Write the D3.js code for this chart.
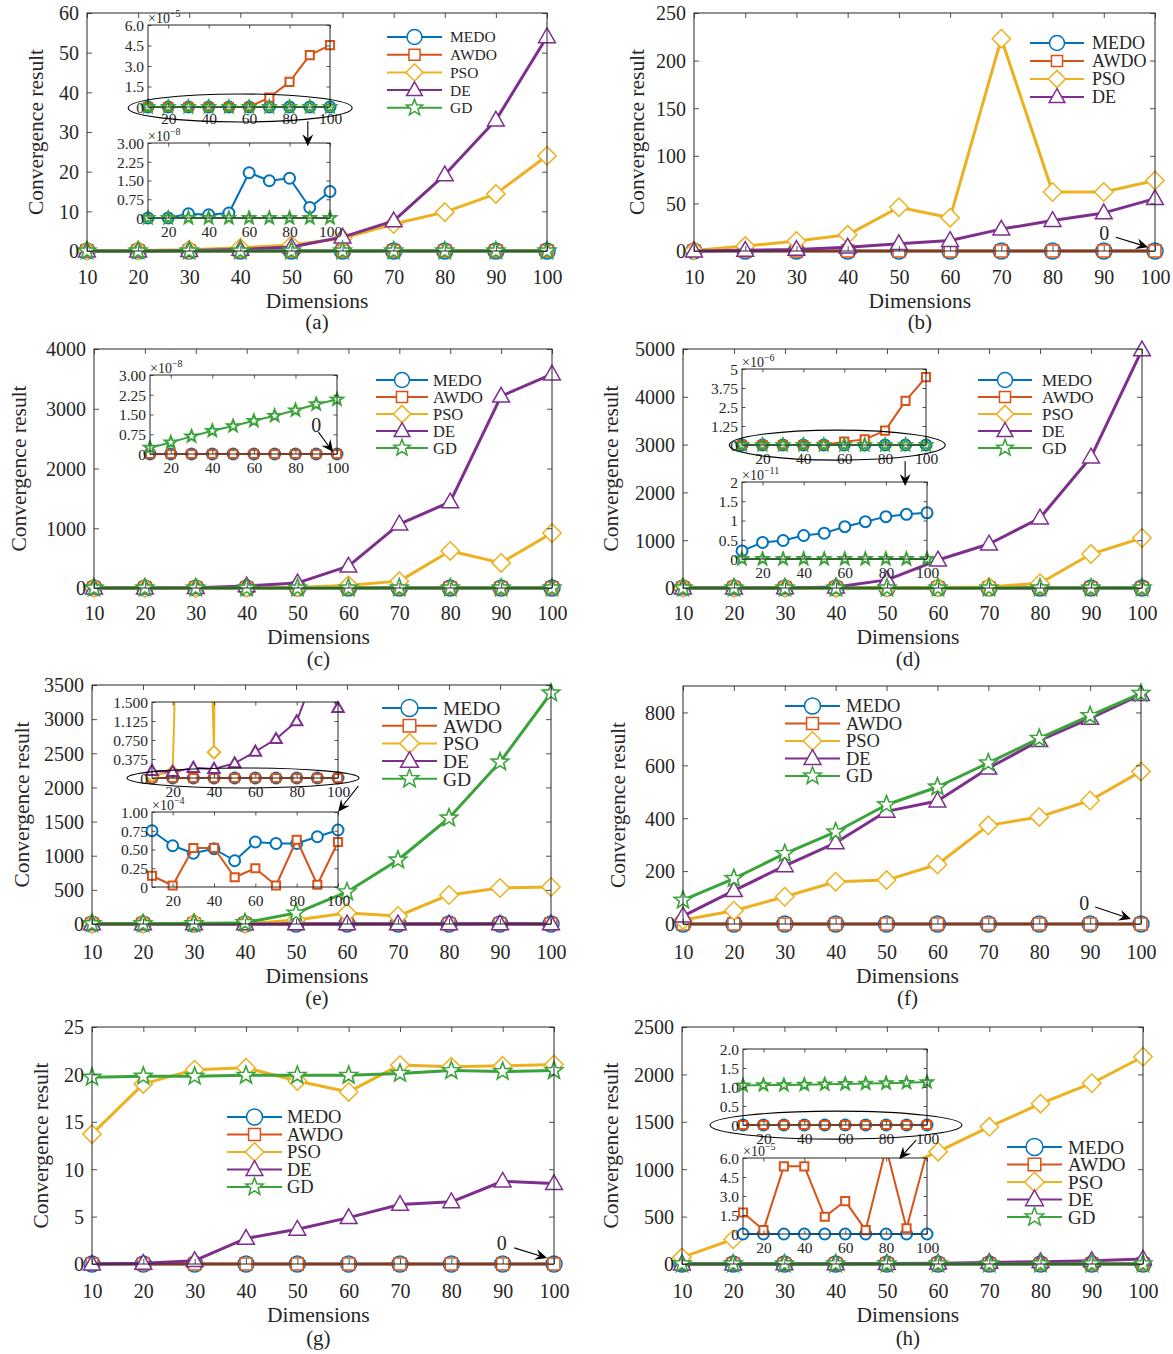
<!DOCTYPE html>
<html>
<head>
<meta charset="utf-8">
<script src="https://cdn.jsdelivr.net/npm/d3@7/dist/d3.min.js"></script>
<style>
html,body{margin:0;padding:0;background:#fff;}
svg text{font-family:"Liberation Serif","Times New Roman",Times,serif;fill:#262626;}
</style>
</head>
<body>
<div id="chart"></div>
<script>
// ================= DATA =================
const dims = [10, 20, 30, 40, 50, 60, 70, 80, 90, 100];
const dimLabels = ["10", "20", "30", "40", "50", "60", "70", "80", "90", "100"];
const insetXTicks = [20, 40, 60, 80, 100];
const insetXLabels = ["20", "40", "60", "80", "100"];
const zero10 = [0, 0, 0, 0, 0, 0, 0, 0, 0, 0];

// (a)
const a_MEDO = [0, 0, 0.17e-8, 0.13e-8, 0.2e-8, 1.81e-8, 1.49e-8, 1.59e-8, 0.42e-8, 1.06e-8];
const a_AWDO = [0, 0, 0, 0, 0, 0, 0.69e-5, 1.84e-5, 3.8e-5, 4.53e-5];
const a_PSO = [0.05, 0.1, 0.3, 0.8, 1.5, 3.2, 6.8, 9.8, 14.4, 24.0];
const a_DE = [0, 0, 0.1, 0.4, 1.0, 3.5, 7.6, 19.2, 33.0, 54.0];
const a_GD = zero10;
const a_yTicks = [0, 10, 20, 30, 40, 50, 60];
const a_in1_yTicks = [0, 1.5e-5, 3e-5, 4.5e-5, 6e-5];
const a_in1_yLabels = ["0", "1.5", "3.0", "4.5", "6.0"];
const a_in2_yTicks = [0, 0.75e-8, 1.5e-8, 2.25e-8, 3e-8];
const a_in2_yLabels = ["0", "0.75", "1.50", "2.25", "3.00"];

// (b)
const b_MEDO = zero10;
const b_AWDO = zero10;
const b_PSO = [0.5, 5.2, 10.5, 17, 46, 35, 223, 62, 62, 74];
const b_DE = [0, 0.7, 1.7, 4, 7.7, 11, 23, 32, 40, 55];
const b_yTicks = [0, 50, 100, 150, 200, 250];

// (c)
const c_MEDO = zero10;
const c_AWDO = zero10;
const c_PSO = [0, 0, 1, 3, 8, 45, 115, 620, 420, 920];
const c_DE = [0, 0, 5, 35, 85, 365, 1070, 1440, 3210, 3580];
const c_GD = [0.24e-8, 0.44e-8, 0.67e-8, 0.88e-8, 1.06e-8, 1.26e-8, 1.45e-8, 1.66e-8, 1.89e-8, 2.07e-8];
const c_yTicks = [0, 1000, 2000, 3000, 4000];
const c_in_yTicks = [0, 0.75e-8, 1.5e-8, 2.25e-8, 3e-8];
const c_in_yLabels = ["0", "0.75", "1.50", "2.25", "3.00"];

// (d)
const d_MEDO = [0.21e-11, 0.43e-11, 0.48e-11, 0.61e-11, 0.67e-11, 0.84e-11, 0.97e-11, 1.10e-11, 1.16e-11, 1.20e-11];
const d_AWDO = [0, 0, 0, 0, 0, 0.22e-6, 0.37e-6, 0.95e-6, 2.9e-6, 4.47e-6];
const d_PSO = [0, 0, 0, 2, 5, 10, 20, 100, 710, 1046];
const d_DE = [0, 0, 2, 20, 170, 585, 920, 1464, 2740, 4980];
const d_GD = zero10;
const d_yTicks = [0, 1000, 2000, 3000, 4000, 5000];
const d_in1_yTicks = [0, 1.25e-6, 2.5e-6, 3.75e-6, 5e-6];
const d_in1_yLabels = ["0", "1.25", "2.5", "3.75", "5"];
const d_in2_yTicks = [0, 0.5e-11, 1e-11, 1.5e-11, 2e-11];
const d_in2_yLabels = ["0", "0.5", "1", "1.5", "2"];

// (e)
const e_MEDO = [0.75e-4, 0.55e-4, 0.45e-4, 0.51e-4, 0.35e-4, 0.60e-4, 0.58e-4, 0.58e-4, 0.67e-4, 0.76e-4];
const e_AWDO = [0.15e-4, 0.02e-4, 0.52e-4, 0.52e-4, 0.13e-4, 0.25e-4, 0.02e-4, 0.63e-4, 0.03e-4, 0.60e-4];
const e_PSO = [0.05, 0.12, 15, 0.51, 60, 160, 117, 425, 527, 542];
const e_DE = [0.14, 0.12, 0.2, 0.18, 0.29, 0.52, 0.77, 1.12, 2.2, 1.38];
const e_GD = [3, 4, 6, 20, 160, 470, 937, 1552, 2372, 3383];
const e_yTicks = [0, 500, 1000, 1500, 2000, 2500, 3000, 3500];
const e_in1_yTicks = [0, 0.375, 0.75, 1.125, 1.5];
const e_in1_yLabels = ["0", "0.375", "0.750", "1.125", "1.500"];
const e_in2_yTicks = [0, 0.25e-4, 0.5e-4, 0.75e-4, 1e-4];
const e_in2_yLabels = ["0", "0.25", "0.50", "0.75", "1.00"];

// (f)
const f_MEDO = zero10;
const f_AWDO = zero10;
const f_PSO = [15, 50, 103, 160, 166, 225, 373, 405, 467, 577];
const f_DE = [30, 126, 220, 307, 426, 465, 589, 693, 778, 867];
const f_GD = [90, 172, 266, 348, 451, 518, 609, 702, 788, 872];
const f_yTicks = [0, 200, 400, 600, 800];

// (g)
const g_MEDO = zero10;
const g_AWDO = zero10;
const g_PSO = [13.7, 19.0, 20.5, 20.7, 19.3, 18.15, 21.0, 20.8, 20.9, 21.05];
const g_DE = [0, 0.07, 0.35, 2.7, 3.66, 4.89, 6.28, 6.56, 8.73, 8.48];
const g_GD = [19.7, 19.8, 19.8, 19.9, 19.9, 19.9, 20.1, 20.4, 20.3, 20.4];
const g_yTicks = [0, 5, 10, 15, 20, 25];

// (h)
const h_MEDO = zero10;
const h_AWDO = [1.7e-5, 0.31e-5, 5.34e-5, 5.34e-5, 1.36e-5, 2.6e-5, 0.31e-5, 6.8e-5, 0.45e-5, 6.5e-5];
const h_PSO = [70, 261, 490, 720, 950, 1185, 1447, 1691, 1907, 2186];
const h_DE = [0, 0, 1, 2, 4, 8, 17, 24, 35, 52];
const h_GD = [1.04, 1.05, 1.05, 1.06, 1.07, 1.08, 1.09, 1.10, 1.11, 1.13];
const h_yTicks = [0, 500, 1000, 1500, 2000, 2500];
const h_in1_yTicks = [0, 0.5, 1, 1.5, 2];
const h_in1_yLabels = ["0", "0.5", "1.0", "1.5", "2.0"];
const h_in2_yTicks = [0, 1.5e-5, 3e-5, 4.5e-5, 6e-5];
const h_in2_yLabels = ["0", "1.5", "3.0", "4.5", "6.0"];

// ================= STYLE =================
const COLORS = {MEDO: "#0072BD", AWDO: "#D95319", PSO: "#EDB120", DE: "#7E2F8E", GD: "#3AA33A"};
const MARK = {MEDO: "circle", AWDO: "square", PSO: "diamond", DE: "triangle", GD: "star"};
const AX = "#262626";
const MAIN = {lineW: 3, markR: 8, markSW: 1.5, starSW: 1.6, tickLen: 5, fs: 20};
const INSET = {lineW: 2, markR: 5.5, markSW: 2, starSW: 2, tickLen: 3.5, fs: 15.5};

const svg = d3.select("#chart").append("svg").attr("width", 1173).attr("height", 1354);
svg.append("rect").attr("width", 1173).attr("height", 1354).attr("fill", "#fff");
const defs = svg.append("defs");
let clipCount = 0;

function markerPath(kind, r) {
  switch (kind) {
    case "circle": return `M${r},0A${r},${r},0,1,1,${-r},0A${r},${r},0,1,1,${r},0Z`;
    case "square": { const s = r * 0.74; return `M${-s},${-s}H${s}V${s}H${-s}Z`; }
    case "diamond": { const s = r * 1.15; return `M0,${-s}L${s},0L0,${s}L${-s},0Z`; }
    case "triangle": { const s = r * 1.05; return `M0,${-s * 1.05}L${s},${s * 0.7}L${-s},${s * 0.7}Z`; }
    case "star": {
      const R = r * 1.15, ri = R * 0.42; let p = "";
      for (let i = 0; i < 10; i++) {
        const a = -Math.PI / 2 + i * Math.PI / 5, rr = i % 2 === 0 ? R : ri;
        p += (i ? "L" : "M") + (rr * Math.cos(a)).toFixed(2) + "," + (rr * Math.sin(a)).toFixed(2);
      }
      return p + "Z";
    }
  }
}

function drawSeries(g, name, data, x, y, st, clip, ymax) {
  const line = d3.line().x((d, i) => x(dims[i])).y(d => y(d));
  g.append("path").datum(data).attr("d", line)
    .attr("fill", "none").attr("stroke", COLORS[name]).attr("stroke-width", st.lineW)
    .attr("stroke-linejoin", "round").attr("clip-path", clip ? `url(#${clip})` : null);
  const pts = data.map((v, i) => [dims[i], v]).filter(d => d[1] <= ymax * 1.0001);
  g.append("g").selectAll("path").data(pts).join("path")
    .attr("transform", d => `translate(${x(d[0])},${y(d[1])})`)
    .attr("d", markerPath(MARK[name], st.markR))
    .attr("fill", "#fff").attr("stroke", COLORS[name])
    .attr("stroke-width", name === "GD" ? st.starSW : st.markSW)
    .attr("stroke-linejoin", "miter");
}

function drawFrame(g, x, y, box, yTicks, yLabels, xTicks, xLabels, st, xLabDy) {
  const [x0, y0, x1, y1] = box;
  const fam = '"Liberation Serif","Times New Roman",serif';
  const styleAxis = sel => {
    sel.attr("font-family", fam).attr("font-size", st.fs).attr("color", AX);
    sel.select(".domain").remove();
    sel.selectAll("line").attr("stroke", AX).attr("stroke-width", 0.8);
  };
  g.append("g").attr("transform", `translate(0,${y1})`)
    .call(d3.axisBottom(x).tickValues(xTicks).tickFormat((d, i) => xLabels[i]).tickSizeInner(-st.tickLen).tickSizeOuter(0))
    .call(styleAxis).call(s => s.selectAll("text").attr("y", xLabDy).attr("dy", null));
  g.append("g").attr("transform", `translate(0,${y0})`)
    .call(d3.axisTop(x).tickValues(xTicks).tickFormat("").tickSizeInner(-st.tickLen).tickSizeOuter(0)).call(styleAxis);
  g.append("g").attr("transform", `translate(${x0},0)`)
    .call(d3.axisLeft(y).tickValues(yTicks).tickFormat((d, i) => yLabels[i]).tickSizeInner(-st.tickLen).tickSizeOuter(0).tickPadding(st === MAIN ? 8 : 4))
    .call(styleAxis).call(s => s.selectAll("text").attr("dy", "0.34em"));
  g.append("g").attr("transform", `translate(${x1},0)`)
    .call(d3.axisRight(y).tickValues(yTicks).tickFormat("").tickSizeInner(-st.tickLen).tickSizeOuter(0)).call(styleAxis);
  g.append("rect").attr("x", x0).attr("y", y0).attr("width", x1 - x0).attr("height", y1 - y0)
    .attr("fill", "none").attr("stroke", AX).attr("stroke-width", 1);
}

function drawInset(parent, ins, seriesMap) {
  const g = parent.append("g");
  const [x0, y0, x1, y1] = ins.box;
  const x = d3.scaleLinear().domain([10, 100]).range([x0, x1]);
  const y = d3.scaleLinear().domain([0, ins.ymax]).range([y1, y0]);
  g.append("rect").attr("x", x0).attr("y", y0).attr("width", x1 - x0).attr("height", y1 - y0).attr("fill", "#fff");
  const cid = "clip" + (clipCount++);
  defs.append("clipPath").attr("id", cid).append("rect")
    .attr("x", x0 - 10).attr("y", y0).attr("width", x1 - x0 + 20).attr("height", y1 - y0 + 20);
  ins.names.forEach(n => drawSeries(g, n, seriesMap[n], x, y, INSET, cid, ins.ymax));
  drawFrame(g, x, y, ins.box, ins.yTicks, ins.yLabels, insetXTicks, insetXLabels, INSET, ins.xLabDy || 19);
  if (ins.exp) {
    const t = g.append("text").attr("x", x0).attr("y", y0 - 2).attr("font-size", 14);
    t.append("tspan").text("×10");
    t.append("tspan").attr("dy", -6).attr("font-size", 10).text(ins.exp);
  }
}

function arrow(g, xa, ya, xb, yb) {
  const ang = Math.atan2(yb - ya, xb - xa), L = 12, Wd = 5.5;
  const c = Math.cos(ang), s = Math.sin(ang);
  const bx = xb - L * c, by = yb - L * s, nx = xb - L * 0.65 * c, ny = yb - L * 0.65 * s;
  g.append("line").attr("x1", xa).attr("y1", ya).attr("x2", nx).attr("y2", ny)
    .attr("stroke", "#000").attr("stroke-width", 1.1);
  g.append("path")
    .attr("d", `M${xb},${yb}L${bx - s * Wd},${by + c * Wd}L${nx},${ny}L${bx + s * Wd},${by - c * Wd}Z`)
    .attr("fill", "#000");
}

function drawPanel(p) {
  const g = svg.append("g");
  const [x0, y0, x1, y1] = p.box;
  const x = d3.scaleLinear().domain([10, 100]).range([x0, x1]);
  const y = d3.scaleLinear().domain([0, p.ymax]).range([y1, y0]);
  const u = d3.scaleLinear().domain([0, 1]).range([x0, x1]);
  const v = d3.scaleLinear().domain([0, 1]).range([y1, y0]);
  const seriesMap = Object.fromEntries(p.series);
  p.series.forEach(([n, d]) => drawSeries(g, n, d, x, y, MAIN, null, p.ymax));
  drawFrame(g, x, y, p.box, p.yTicks, p.yTicks.map(String), dims, dimLabels, MAIN, p.dy[0]);
  g.append("text").attr("transform", `translate(${p.ylabX},${(y0 + y1) / 2}) rotate(-90)`)
    .attr("text-anchor", "middle").attr("dy", "0.35em").attr("font-size", 21.5).text("Convergence result");
  g.append("text").attr("x", u(p.xlabU)).attr("y", y1 + p.dy[1]).attr("text-anchor", "middle").attr("font-size", 21.5).text("Dimensions");
  g.append("text").attr("x", u(p.xlabU)).attr("y", y1 + p.dy[2]).attr("text-anchor", "middle").attr("font-size", 21).text(p.caption);
  (p.insets || []).forEach(ins => drawInset(g, ins, seriesMap));
  // legend
  const L = p.legend;
  p.series.forEach(([n], i) => {
    const yy = L.y + i * L.dy;
    g.append("line").attr("x1", L.x).attr("x2", L.x + L.len).attr("y1", yy).attr("y2", yy)
      .attr("stroke", COLORS[n]).attr("stroke-width", 2);
    g.append("path").attr("transform", `translate(${L.x + L.len / 2},${yy})`)
      .attr("d", markerPath(MARK[n], L.r)).attr("fill", "#fff").attr("stroke", COLORS[n]).attr("stroke-width", 1.5);
    g.append("text").attr("x", L.tx).attr("y", yy).attr("dy", "0.35em").attr("font-size", L.fs).text(n);
  });
  // annotations
  (p.ellipses || []).forEach(e => g.append("ellipse").attr("cx", u(e.u)).attr("cy", v(e.v)).attr("rx", e.rx).attr("ry", e.ry)
    .attr("fill", "none").attr("stroke", "#000").attr("stroke-width", 1.1));
  (p.arrows || []).forEach(a => arrow(g, u(a.u1), v(a.v1), u(a.u2), v(a.v2)));
  (p.notes || []).forEach(nt => g.append("text").attr("x", u(nt.u)).attr("y", v(nt.v)).attr("dy", "0.35em")
    .attr("text-anchor", "middle").attr("font-size", 20).text(nt.text));
}

const panels = [
  {caption: "(a)", box: [87, 13, 547, 251], ymax: 60, yTicks: a_yTicks, ylabX: 35, xlabU: 0.5, dy: [33, 57, 78],
   series: [["MEDO", a_MEDO], ["AWDO", a_AWDO], ["PSO", a_PSO], ["DE", a_DE], ["GD", a_GD]],
   legend: {x: 387, y: 37, dy: 17.7, len: 55, tx: 450, fs: 15.5, r: 7.5},
   insets: [
     {box: [148, 25, 330, 107], ymax: 6e-5, yTicks: a_in1_yTicks, yLabels: a_in1_yLabels, names: ["MEDO", "AWDO", "GD"], exp: "−5", xLabDy: 17},
     {box: [148, 143, 330, 218], ymax: 3e-8, yTicks: a_in2_yTicks, yLabels: a_in2_yLabels, names: ["MEDO", "GD"], exp: "−8"}],
   ellipses: [{u: 0.333, v: 0.601, rx: 112, ry: 14}],
   arrows: [{u1: 0.48, v1: 0.545, u2: 0.48, v2: 0.44}]},
  {caption: "(b)", box: [694, 13, 1155, 251], ymax: 250, yTicks: b_yTicks, ylabX: 636, xlabU: 0.49, dy: [33, 57, 78],
   series: [["MEDO", b_MEDO], ["AWDO", b_AWDO], ["PSO", b_PSO], ["DE", b_DE]],
   legend: {x: 1030, y: 43, dy: 18, len: 54, tx: 1092, fs: 18, r: 7.5},
   notes: [{u: 0.89, v: 0.074, text: "0"}],
   arrows: [{u1: 0.915, v1: 0.058, u2: 0.985, v2: 0.016}]},
  {caption: "(c)", box: [94, 349, 552, 588], ymax: 4000, yTicks: c_yTicks, ylabX: 18, xlabU: 0.49, dy: [32, 56, 78],
   series: [["MEDO", c_MEDO], ["AWDO", c_AWDO], ["PSO", c_PSO], ["DE", c_DE], ["GD", c_GD]],
   legend: {x: 376, y: 380, dy: 17, len: 52, tx: 433, fs: 16.5, r: 7.5},
   insets: [{box: [150, 375, 337, 454], ymax: 3e-8, yTicks: c_in_yTicks, yLabels: c_in_yLabels, names: ["MEDO", "AWDO", "GD"], exp: "−8"}],
   notes: [{u: 0.485, v: 0.682, text: "0"}],
   arrows: [{u1: 0.49, v1: 0.652, u2: 0.522, v2: 0.569}]},
  {caption: "(d)", box: [683, 349, 1142, 588], ymax: 5000, yTicks: d_yTicks, ylabX: 610, xlabU: 0.49, dy: [32, 56, 78],
   series: [["MEDO", d_MEDO], ["AWDO", d_AWDO], ["PSO", d_PSO], ["DE", d_DE], ["GD", d_GD]],
   legend: {x: 978, y: 380, dy: 17, len: 54, tx: 1042, fs: 17, r: 7.5},
   insets: [
     {box: [742, 369, 926, 445], ymax: 5e-6, yTicks: d_in1_yTicks, yLabels: d_in1_yLabels, names: ["MEDO", "AWDO", "GD"], exp: "−6"},
     {box: [742, 482, 927, 559], ymax: 2e-11, yTicks: d_in2_yTicks, yLabels: d_in2_yLabels, names: ["MEDO", "GD"], exp: "−11"}],
   ellipses: [{u: 0.336, v: 0.598, rx: 108, ry: 15}],
   arrows: [{u1: 0.484, v1: 0.53, u2: 0.484, v2: 0.427}]},
  {caption: "(e)", box: [92, 685, 551, 924], ymax: 3500, yTicks: e_yTicks, ylabX: 21, xlabU: 0.49, dy: [35, 59, 81],
   series: [["MEDO", e_MEDO], ["AWDO", e_AWDO], ["PSO", e_PSO], ["DE", e_DE], ["GD", e_GD]],
   legend: {x: 382, y: 708, dy: 17.7, len: 55, tx: 443, fs: 19.5, r: 8.5},
   insets: [
     {box: [152, 702, 338, 778], ymax: 1.5, yTicks: e_in1_yTicks, yLabels: e_in1_yLabels, names: ["MEDO", "AWDO", "PSO", "DE"]},
     {box: [152, 812, 338, 887], ymax: 1e-4, yTicks: e_in2_yTicks, yLabels: e_in2_yLabels, names: ["MEDO", "AWDO"], exp: "−4"}],
   ellipses: [{u: 0.329, v: 0.611, rx: 116, ry: 10}],
   arrows: [{u1: 0.58, v1: 0.577, u2: 0.536, v2: 0.469}]},
  {caption: "(f)", box: [683, 686, 1141, 924], ymax: 900, yTicks: f_yTicks, ylabX: 617, xlabU: 0.49, dy: [35, 59, 81],
   series: [["MEDO", f_MEDO], ["AWDO", f_AWDO], ["PSO", f_PSO], ["DE", f_DE], ["GD", f_GD]],
   legend: {x: 785, y: 706, dy: 17.5, len: 55, tx: 846, fs: 18.5, r: 8},
   notes: [{u: 0.876, v: 0.088, text: "0"}],
   arrows: [{u1: 0.9, v1: 0.071, u2: 0.978, v2: 0.021}]},
  {caption: "(g)", box: [92, 1027, 554, 1264], ymax: 25, yTicks: g_yTicks, ylabX: 40, xlabU: 0.49, dy: [34, 58, 81],
   series: [["MEDO", g_MEDO], ["AWDO", g_AWDO], ["PSO", g_PSO], ["DE", g_DE], ["GD", g_GD]],
   legend: {x: 227, y: 1117, dy: 17.5, len: 55, tx: 287, fs: 18.5, r: 8},
   notes: [{u: 0.887, v: 0.089, text: "0"}],
   arrows: [{u1: 0.914, v1: 0.068, u2: 0.985, v2: 0.025}]},
  {caption: "(h)", box: [682, 1027, 1143, 1264], ymax: 2500, yTicks: h_yTicks, ylabX: 610, xlabU: 0.49, dy: [34, 58, 81],
   series: [["MEDO", h_MEDO], ["AWDO", h_AWDO], ["PSO", h_PSO], ["DE", h_DE], ["GD", h_GD]],
   legend: {x: 1007, y: 1147, dy: 17.5, len: 55, tx: 1068, fs: 19, r: 8.5},
   insets: [
     {box: [743, 1049, 927, 1125], ymax: 2, yTicks: h_in1_yTicks, yLabels: h_in1_yLabels, names: ["MEDO", "AWDO", "GD"]},
     {box: [743, 1158, 927, 1234], ymax: 6e-5, yTicks: h_in2_yTicks, yLabels: h_in2_yLabels, names: ["MEDO", "AWDO"], exp: "−5"}],
   ellipses: [{u: 0.334, v: 0.586, rx: 126, ry: 14}],
   arrows: [{u1: 0.508, v1: 0.523, u2: 0.471, v2: 0.443}]}
];

panels.forEach(drawPanel);
</script>
</body>
</html>
